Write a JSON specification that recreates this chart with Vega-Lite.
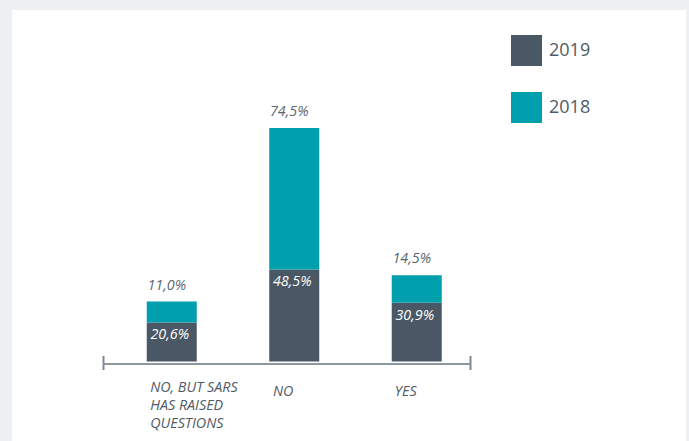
{
  "$schema": "https://vega.github.io/schema/vega-lite/v6.json",
  "width": 674,
  "height": 431,
  "autosize": {"type": "none"},
  "padding": {"left": 12, "top": 10, "right": 3, "bottom": 0},
  "background": "#eff0f2",
  "view": {"fill": "white", "stroke": null},
  "data": {
    "values": [
      {"cat": "NO, BUT SARS HAS RAISED QUESTIONS", "year": "2019", "value": 20.6, "label": "20,6%"},
      {"cat": "NO, BUT SARS HAS RAISED QUESTIONS", "year": "2018", "value": 11.0, "label": "11,0%"},
      {"cat": "NO", "year": "2019", "value": 48.5, "label": "48,5%"},
      {"cat": "NO", "year": "2018", "value": 74.5, "label": "74,5%"},
      {"cat": "YES", "year": "2019", "value": 30.9, "label": "30,9%"},
      {"cat": "YES", "year": "2018", "value": 14.5, "label": "14,5%"}
    ]
  },
  "transform": [
    {"stack": "value", "groupby": ["cat"], "sort": [{"field": "year", "order": "descending"}], "as": ["v0", "v1"]}
  ],
  "encoding": {
    "x": {
      "field": "cat",
      "type": "nominal",
      "sort": ["NO, BUT SARS HAS RAISED QUESTIONS", "NO", "YES"],
      "scale": {"range": [90.5, 458], "paddingInner": 0, "paddingOuter": 0},
      "axis": {
        "title": null,
        "labelAngle": 0,
        "offset": -77.5,
        "domainColor": "#8c979f",
        "domainWidth": 2,
        "tickColor": "#7d8992",
        "tickWidth": 2,
        "tickSize": 6,
        "tickBand": "extent",
        "tickOpacity": {"condition": {"test": "datum.index !== 0 && datum.index !== 0.5", "value": 1}, "value": 0},
        "labelFont": "Open Sans",
        "labelFontStyle": "italic",
        "labelFontSize": 14.3,
        "labelColor": "#4f5b66",
        "labelLineHeight": 18,
        "labelOverlap": false,
        "labelPadding": {"condition": {"test": "datum.value == 'NO, BUT SARS HAS RAISED QUESTIONS'", "value": 10.5}, "value": 14.5},
        "labelAlign": {"condition": {"test": "datum.value == 'NO, BUT SARS HAS RAISED QUESTIONS'", "value": "left"}, "value": "center"},
        "labelOffset": {"condition": {"test": "datum.value == 'NO, BUT SARS HAS RAISED QUESTIONS'", "value": -14}, "value": -3.5},
        "labelExpr": "datum.value == 'NO, BUT SARS HAS RAISED QUESTIONS' ? ['NO, BUT SARS', 'HAS RAISED', 'QUESTIONS'] : datum.label",
        "encoding": {"ticks": {"y": {"value": -8}}}
      }
    }
  },
  "layer": [
    {
      "mark": {"type": "bar", "width": 50, "xOffset": 8},
      "encoding": {
        "y": {"field": "v1", "type": "quantitative", "scale": {"domain": [0, 123], "range": [351.5, 118], "nice": false, "zero": true}, "axis": null},
        "y2": {"field": "v0"},
        "color": {
          "field": "year",
          "type": "nominal",
          "scale": {"domain": ["2019", "2018"], "range": ["#4a5764", "#009fae"]},
          "legend": {
            "orient": "none",
            "legendX": 499,
            "legendY": 25,
            "title": null,
            "padding": 0,
            "symbolType": "square",
            "symbolSize": 961,
            "symbolStrokeWidth": 0,
            "symbolOpacity": 1,
            "labelFont": "Open Sans",
            "labelFontSize": 18,
            "labelColor": "#4f5b66",
            "labelOffset": 7,
            "rowPadding": 26
          }
        }
      }
    },
    {
      "transform": [{"filter": "datum.year == '2018'"}],
      "mark": {"type": "text", "font": "Open Sans", "fontStyle": "italic", "fontSize": 14.3, "color": "#5a6670", "baseline": "alphabetic", "dy": -12, "xOffset": 3},
      "encoding": {
        "y": {"field": "v1", "type": "quantitative"},
        "text": {"field": "label"}
      }
    },
    {
      "transform": [{"filter": "datum.year == '2019'"}],
      "mark": {"type": "text", "font": "Open Sans", "fontStyle": "italic", "fontSize": 14.3, "color": "white", "baseline": "alphabetic", "dy": 17, "xOffset": 6},
      "encoding": {
        "y": {"field": "v1", "type": "quantitative"},
        "text": {"field": "label"}
      }
    }
  ]
}
